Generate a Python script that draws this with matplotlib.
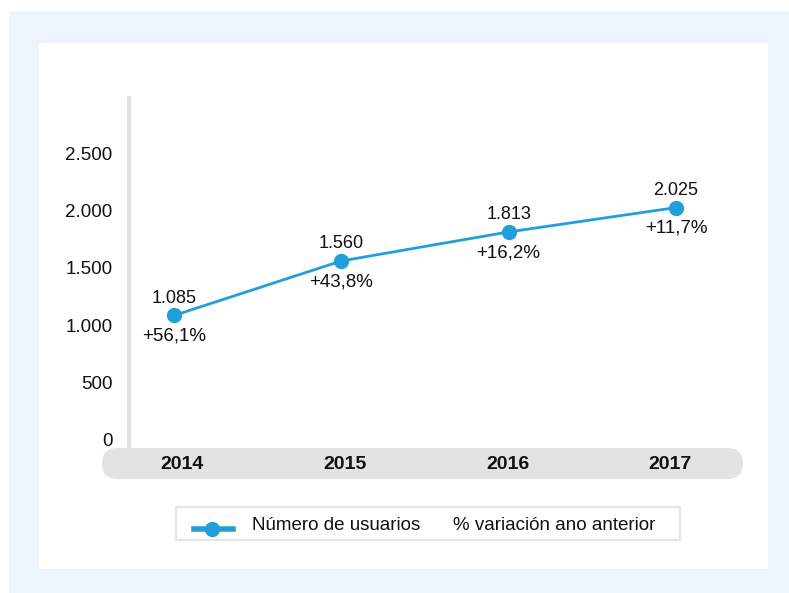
import matplotlib.pyplot as plt
from matplotlib.patches import Rectangle, FancyBboxPatch
from matplotlib.lines import Line2D

years = ['2014', '2015', '2016', '2017']
usuarios = [1085, 1560, 1813, 2025]
usuarios_lbl = ['1.085', '1.560', '1.813', '2.025']
variacion_lbl = ['+56,1%', '+43,8%', '+16,2%', '+11,7%']
yticks = [0, 500, 1000, 1500, 2000, 2500]
ytick_lbl = ['0', '500', '1.000', '1.500', '2.000', '2.500']

BLUE = '#229FDA'
GREY = '#E3E3E3'
W, H = 789, 593

plt.rcParams['font.family'] = ['Liberation Sans', 'DejaVu Sans']


def fx(px):
    return px / W


def fy(py):
    return 1 - py / H


fig = plt.figure(figsize=(W / 100, H / 100), dpi=100, facecolor='white')

# background panels
fig.add_artist(Rectangle((fx(9), 0), 1 - fx(9), fy(11), transform=fig.transFigure,
                         facecolor='#EEF4FB', edgecolor='none', zorder=0))
fig.add_artist(Rectangle((fx(39), fy(569)), fx(768 - 39), (569 - 43) / H, transform=fig.transFigure,
                         facecolor='white', edgecolor='none', zorder=0))

# grey pill with the years
pw, ph = 743 - 102, 479 - 448
pax = fig.add_axes([fx(102), fy(479), fx(pw), ph / H])
pax.set_xlim(-0.495, 3.449)
pax.set_ylim(0, 1)
pax.axis('off')
pax.add_patch(FancyBboxPatch((0, 0), 1, 1, transform=pax.transAxes,
                             boxstyle='round,pad=0,rounding_size=%f' % (ph / 2 / pw),
                             mutation_aspect=pw / ph,
                             facecolor=GREY, edgecolor='none'))
for i, y in enumerate(years):
    pax.text(i, 0.48, y, ha='center', va='center', fontsize=14, fontweight='bold', color='#111111')

# main chart
ax = fig.add_axes([fx(129), fy(448), fx(743 - 129), (448 - 98) / H])
ax.patch.set_alpha(0)
x = list(range(len(years)))
ax.plot(x, usuarios, color=BLUE, lw=2, marker='o', ms=10, zorder=3)
for i in x:
    ax.annotate(usuarios_lbl[i], (i, usuarios[i]), xytext=(0, 12.5), textcoords='offset points',
                ha='center', va='center', fontsize=13, color='#111111')
    ax.annotate(variacion_lbl[i], (i, usuarios[i]), xytext=(0, -15), textcoords='offset points',
                ha='center', va='center', fontsize=13.5, color='#111111')

ax.set_xlim(-0.269, 3.401)
ax.set_ylim(-70, 2980)
ax.set_yticks(yticks)
ax.set_yticklabels(ytick_lbl, fontsize=13.5, color='#111111')
ax.tick_params(axis='y', length=0, pad=12)
ax.set_xticks([])
for s in ['top', 'right', 'bottom']:
    ax.spines[s].set_visible(False)
ax.spines['left'].set_color(GREY)
ax.spines['left'].set_linewidth(3)

# legend
fig.add_artist(Rectangle((fx(176), fy(540)), fx(680 - 176), (540 - 507) / H, transform=fig.transFigure,
                         facecolor='white', edgecolor='#E6E6E6', lw=1.5))
fig.add_artist(Line2D([fx(194), fx(233)], [fy(529), fy(529)], transform=fig.transFigure,
                      color=BLUE, lw=4))
fig.add_artist(Line2D([fx(212)], [fy(529)], transform=fig.transFigure,
                      color=BLUE, marker='o', ms=10, lw=0))
fig.text(fx(252), fy(526), 'Número de usuarios', fontsize=13.5, va='center', color='#111111')
fig.text(fx(453), fy(526), '% variación ano anterior', fontsize=13.5, va='center', color='#111111')

fig.savefig('out.png', dpi=100, facecolor=fig.get_facecolor())
